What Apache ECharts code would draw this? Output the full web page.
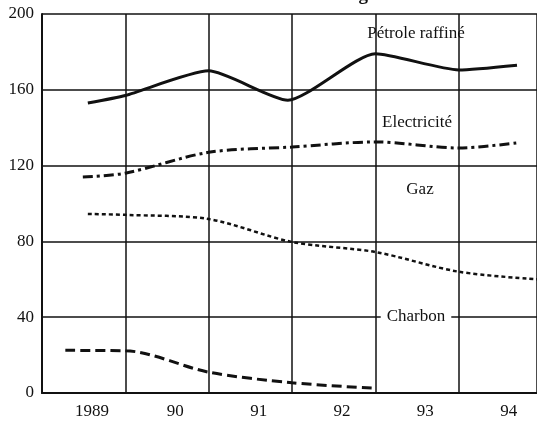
<!DOCTYPE html>
<html>
<head>
<meta charset="utf-8">
<script src="https://cdn.jsdelivr.net/npm/echarts@6/dist/echarts.min.js"></script>
<style>html,body{margin:0;padding:0;background:#fff;}#c{width:537px;height:429px;}</style>
</head>
<body>
<div id="c"></div>
<script>
const titleText = "Consommation d'énergie";
const yTicks = [0, 40, 80, 120, 160, 200];
const xTickYears = [1989, 1990, 1991, 1992, 1993, 1994];
const xTickLabels = ['1989', '90', '91', '92', '93', '94'];

const petroleYears = [1988.95, 1989.4, 1990.4, 1991.35, 1992.4, 1993.4, 1994.1];
const petroleValues = [153, 157, 170, 154.5, 179, 170.5, 173];

const electriciteYears = [1988.89, 1989.4, 1990.4, 1991.4, 1992.4, 1993.4, 1994.1];
const electriciteValues = [114, 116, 127, 129.8, 132.5, 129.3, 132];

const gazYears = [1988.95, 1989.4, 1990.4, 1991.4, 1992.4, 1993.4, 1994.34];
const gazValues = [94.5, 94, 91.8, 79.7, 74.4, 64, 60];

const charbonYears = [1988.68, 1989.4, 1990.4, 1991.4, 1992.4];
const charbonValues = [22.5, 22.3, 11, 5.4, 2.5];

const pair = (xs, ys) => xs.map((x, i) => [x, ys[i]]);
const serif = '"Liberation Serif", "DejaVu Serif", serif';

const chart = echarts.init(document.getElementById('c'), null, {renderer: 'canvas'});
const lineBase = {type: 'line', xAxisIndex: 0, yAxisIndex: 0, symbol: 'none', smooth: 0.3, clip: true, silent: true};

chart.setOption({
  animation: false,
  backgroundColor: '#fff',
  grid: {left: 42, top: 14, right: 0, bottom: 36, containLabel: false},
  xAxis: [
    {
      type: 'value', min: 1988.4, max: 1994.34, position: 'bottom',
      axisLine: {show: true, onZero: false, lineStyle: {color: '#111', width: 2}},
      axisTick: {show: false},
      splitLine: {show: false},
      axisLabel: {
        customValues: xTickYears,
        formatter: v => xTickLabels[xTickYears.indexOf(Math.round(v))] || '',
        fontFamily: serif, fontSize: 17, color: '#111', margin: 10
      }
    },
    {
      type: 'value', min: 0, max: 5.935, interval: 1, position: 'bottom',
      axisLine: {show: false}, axisTick: {show: false}, axisLabel: {show: false},
      splitLine: {show: true, lineStyle: {color: '#111', width: 1.5}}
    }
  ],
  yAxis: {
    type: 'value', min: yTicks[0], max: yTicks[yTicks.length - 1], interval: 40,
    axisLine: {show: true, lineStyle: {color: '#111', width: 2}},
    axisTick: {show: false},
    splitLine: {show: true, lineStyle: {color: '#111', width: 1.5}},
    axisLabel: {fontFamily: serif, fontSize: 17, color: '#111', margin: 8}
  },
  series: [
    Object.assign({}, lineBase, {name: 'Pétrole raffiné', smooth: 0.2, data: pair(petroleYears, petroleValues),
      lineStyle: {color: '#111', width: 3, type: 'solid'}}),
    Object.assign({}, lineBase, {name: 'Electricité', data: pair(electriciteYears, electriciteValues),
      lineStyle: {color: '#111', width: 3, type: [10, 4, 3, 4]}}),
    Object.assign({}, lineBase, {name: 'Gaz', data: pair(gazYears, gazValues),
      lineStyle: {color: '#111', width: 2.5, type: [4, 3]}}),
    Object.assign({}, lineBase, {name: 'Charbon', data: pair(charbonYears, charbonValues),
      lineStyle: {color: '#111', width: 3, type: [10, 5]}})
  ],
  graphic: [
    {type: 'text', x: 280, y: -5, style: {text: titleText, font: 'bold 19px ' + serif, fill: '#111', align: 'center', verticalAlign: 'middle'}},
    {type: 'text', x: 416, y: 34, style: {text: 'Pétrole raffiné', font: '17px ' + serif, fill: '#111', align: 'center', verticalAlign: 'middle'}},
    {type: 'text', x: 417, y: 123, style: {text: 'Electricité', font: '17px ' + serif, fill: '#111', align: 'center', verticalAlign: 'middle'}},
    {type: 'text', x: 420, y: 190, style: {text: 'Gaz', font: '17px ' + serif, fill: '#111', align: 'center', verticalAlign: 'middle'}},
    {type: 'text', x: 416, y: 317, z: 100, style: {text: 'Charbon', font: '17px ' + serif, fill: '#111', align: 'center', verticalAlign: 'middle', backgroundColor: '#fff', padding: [1, 6]}}
  ]
});
</script>
</body>
</html>
